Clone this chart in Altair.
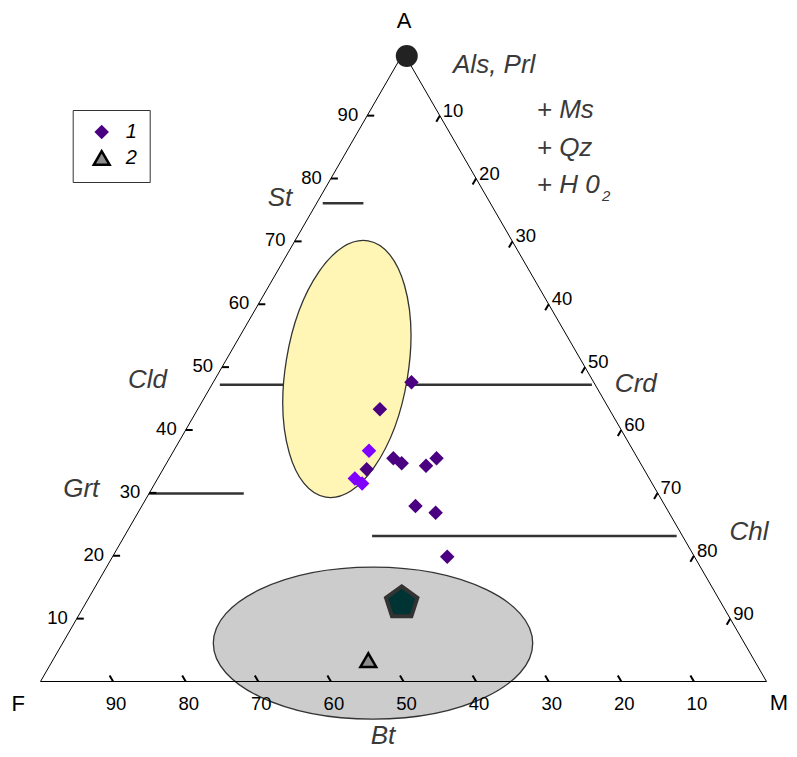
import math
import altair as alt
import pandas as pd

# ---------------- data (ternary percentages: A = apex, M = right corner, F = left corner)
grp1_A = [47.6, 43.3, 35.5, 34.7, 33.75, 34.3, 35.5, 27.9, 26.85, 19.85]
grp1_M = [27.3, 25.1, 30.85, 32.4, 28.05, 35.95, 36.8, 37.7, 41.0, 46.1]
grp1b_A = [36.7, 32.3, 31.5]          # brighter violet diamonds
grp1b_M = [26.9, 27.15, 28.55]
grp2_A = [3.4]
grp2_M = [43.45]
bt_A = [12.5]                          # biotite pentagon
bt_M = [43.5]
als_A = [99.5]                         # Als, Prl dot at the apex
als_M = [0.7]

tick_values = [10, 20, 30, 40, 50, 60, 70, 80, 90]

# mineral tie lines (constant A), endpoints given by M
field_A = [76.05, 47.2, 29.9, 23.15]
field_M0 = [0.85, 1.1, 0.0, 34.1]
field_M1 = [6.45, 52.35, 13.05, 76.05]

# fields (ellipses): centres
ell_A = [49.7, 6.1]
ell_M = [17.35, 42.75]

corner_text = ["A", "F", "M"]
corner_u = [50.07, -3.06, 101.72]
corner_v = [90.94, -3.10, -2.96]

mineral_text = ["St", "Cld", "Grt", "Crd", "Chl", "Bt"]
mineral_u = [32.99, 14.74, 5.61, 82.0, 97.59, 47.18]
mineral_v = [65.43, 40.39, 25.45, 39.83, 19.49, -8.61]

assemb_text = ["Als, Prl", "+ Ms", "+ Qz", "+ H 0"]
assemb_u = [56.82, 68.35, 68.35, 68.35]
assemb_v = [83.84, 77.58, 72.38, 67.24]
sub_text = ["2"]
sub_u = [77.34]
sub_v = [66.12]

# ---------------- geometry
SQ = math.sqrt(3) / 2
PX = 7.26                      # pixels per percent unit
W, H = 781, 741
X0, Y0 = 32.5, 673.5           # F corner inside the chart
x_dom = [-X0 / PX, (W - X0) / PX]
y_dom = [(Y0 - H) / PX, Y0 / PX]
TL = 7 / PX                    # tick length


def uv(A, M):
    return M + A / 2, A * SQ


def pts(As, Ms, **extra):
    rows = []
    for i, (a, m) in enumerate(zip(As, Ms)):
        u, v = uv(a, m)
        r = {"u": u, "v": v, "A": a, "M": m}
        for k, val in extra.items():
            r[k] = val[i] if isinstance(val, list) else val
        rows.append(r)
    return pd.DataFrame(rows)


X = alt.X("u:Q", scale=alt.Scale(domain=x_dom, nice=False, zero=False), axis=None)
Y = alt.Y("v:Q", scale=alt.Scale(domain=y_dom, nice=False, zero=False), axis=None)
FONT = "Liberation Sans"

# triangle outline
tri = pts([0, 0, 100, 0], [0, 100, 0, 0], idx=[0, 1, 2, 3])
outline = alt.Chart(tri).mark_line(color="black", strokeWidth=1).encode(
    x=X, y=Y, order="idx:Q")

# ticks
left_rows, right_rows, bot_rows = [], [], []
for t in tick_values:
    u, v = uv(t, 0)
    left_rows.append({"u": u, "v": v, "u2": u + TL, "v2": v, "lab": str(t)})
    u, v = uv(100 - t, t)
    right_rows.append({"u": u, "v": v, "u2": u - TL / 2, "v2": v - TL * SQ, "lab": str(t)})
    u, v = uv(0, 100 - t)
    bot_rows.append({"u": u, "v": v, "u2": u - TL / 2, "v2": v + TL * SQ, "lab": str(t)})
ticks_df = pd.DataFrame(left_rows + right_rows + bot_rows)
ticks = alt.Chart(ticks_df).mark_rule(color="black", strokeWidth=2).encode(
    x=X, y=Y, x2="u2:Q", y2="v2:Q")

tick_font = dict(font=FONT, fontSize=18.5, color="black")
left_lab = alt.Chart(pd.DataFrame(left_rows)).mark_text(
    align="right", baseline="middle", dx=-9, dy=-1, **tick_font).encode(x=X, y=Y, text="lab:N")
right_lab = alt.Chart(pd.DataFrame(right_rows)).mark_text(
    align="left", baseline="alphabetic", dx=3, dy=1, **tick_font).encode(x=X, y=Y, text="lab:N")
bot_lab = alt.Chart(pd.DataFrame(bot_rows)).mark_text(
    align="center", baseline="middle", dx=3, dy=22.5, **tick_font).encode(x=X, y=Y, text="lab:N")

# tie lines
frows = []
for a, m0, m1 in zip(field_A, field_M0, field_M1):
    u0, v0 = uv(a, m0)
    u1, _ = uv(a, m1)
    frows.append({"u": u0, "v": v0, "u2": u1, "v2": v0})
tie = alt.Chart(pd.DataFrame(frows)).mark_rule(color="#333333", strokeWidth=2.5).encode(
    x=X, y=Y, x2="u2:Q", y2="v2:Q")

# ellipses as custom symbols
K = 0.5523


def ell_path(a, b):
    return (f"M {a} 0 C {a} {K*b:.4f} {K*a:.4f} {b} 0 {b} "
            f"C {-K*a:.4f} {b} {-a} {K*b:.4f} {-a} 0 "
            f"C {-a} {-K*b:.4f} {-K*a:.4f} {-b} 0 {-b} "
            f"C {K*a:.4f} {-b} {a} {-K*b:.4f} {a} 0 Z")


yel_df = pts(ell_A[:1], ell_M[:1])
gry_df = pts(ell_A[1:], ell_M[1:])
yellow = alt.Chart(yel_df).mark_point(
    shape=ell_path(0.471, 1), size=259.8 ** 2, angle=9.4, filled=True, fill="#FFF6B5",
    stroke="#333333", strokeWidth=1.3, opacity=1, fillOpacity=1).encode(x=X, y=Y)
grey = alt.Chart(gry_df).mark_point(
    shape=ell_path(1, 0.476), size=319.4 ** 2, filled=True, fill="#CCCCCC",
    stroke="#333333", strokeWidth=1.3, opacity=1, fillOpacity=1).encode(x=X, y=Y)

# apex dot
apex = alt.Chart(pts(als_A, als_M)).mark_point(
    shape="circle", size=484, filled=True, fill="#222222", opacity=1).encode(x=X, y=Y)

# biotite pentagon
PENT = "M 0 -1 L 0.951 -0.309 L 0.588 0.809 L -0.588 0.809 L -0.951 -0.309 Z"
pent = alt.Chart(pts(bt_A, bt_M)).mark_point(
    shape=PENT, size=1089, filled=True, fill="#003333", stroke="#333333",
    strokeWidth=4, opacity=1, fillOpacity=1).encode(x=X, y=Y)

# samples with legend
samples = pd.concat([pts(grp1_A, grp1_M, group="1"), pts(grp2_A, grp2_M, group="2")])
leg = alt.Legend(orient="none", legendX=64.7, legendY=102, title=None,
                 fillColor="white", strokeColor="#333333", padding=12,
                 symbolOffset=7, labelOffset=14, rowPadding=3,
                 labelFont=FONT, labelFontSize=20, labelFontStyle="italic",
                 labelColor="black", symbolStrokeWidth=2.5)
main_pts = alt.Chart(samples).mark_point(filled=True, opacity=1, strokeWidth=2.5).encode(
    x=X, y=Y,
    shape=alt.Shape("group:N", scale=alt.Scale(domain=["1", "2"], range=["diamond", "triangle-up"]), legend=leg),
    fill=alt.Fill("group:N", scale=alt.Scale(domain=["1", "2"], range=["#4B0082", "#8C8C8C"]), legend=leg),
    stroke=alt.Stroke("group:N", scale=alt.Scale(domain=["1", "2"], range=["#4B0082", "#000000"]), legend=leg),
    size=alt.Size("group:N", scale=alt.Scale(domain=["1", "2"], range=[120, 250]), legend=leg),
)
bright = alt.Chart(pts(grp1b_A, grp1b_M)).mark_point(
    shape="diamond", filled=True, fill="#8000FF", stroke="#8000FF", strokeWidth=2.5,
    size=120, opacity=1).encode(x=X, y=Y)

# text annotations
corner = alt.Chart(pd.DataFrame({"u": corner_u, "v": corner_v, "t": corner_text})).mark_text(
    font=FONT, fontSize=22, color="black", align="center", baseline="middle").encode(x=X, y=Y, text="t:N")
minerals = alt.Chart(pd.DataFrame({"u": mineral_u, "v": mineral_v, "t": mineral_text})).mark_text(
    font=FONT, fontSize=26, fontStyle="italic", color="#3a3a3a", align="center",
    baseline="alphabetic").encode(x=X, y=Y, text="t:N")
assemb = alt.Chart(pd.DataFrame({"u": assemb_u, "v": assemb_v, "t": assemb_text})).mark_text(
    font=FONT, fontSize=26, fontStyle="italic", color="#3a3a3a", align="left",
    baseline="alphabetic").encode(x=X, y=Y, text="t:N")
sub = alt.Chart(pd.DataFrame({"u": sub_u, "v": sub_v, "t": sub_text})).mark_text(
    font=FONT, fontSize=15, fontStyle="italic", color="#3a3a3a", align="left",
    baseline="alphabetic").encode(x=X, y=Y, text="t:N")

chart = alt.layer(
    tie, yellow, grey, outline, ticks, left_lab, right_lab, bot_lab,
    apex, pent, main_pts, bright, corner, minerals, assemb, sub,
).properties(
    width=W, height=H, padding=0, autosize=alt.AutoSizeParams(type="none"),
).configure_view(stroke=None)

chart.save("out.html", embed_options={"renderer": "svg", "actions": False})
